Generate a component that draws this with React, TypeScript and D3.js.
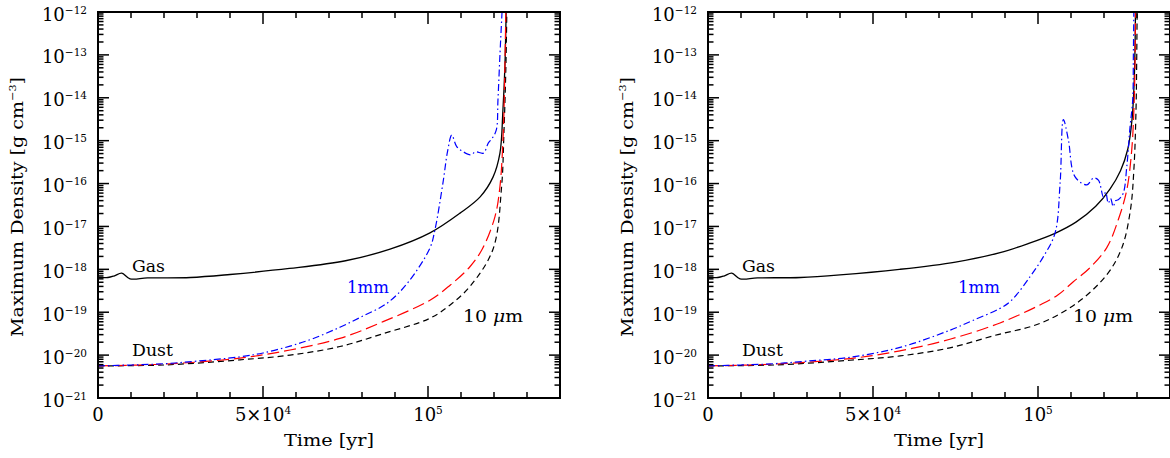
import React from "react";
import * as d3 from "d3";

// ---------- data (time in yr, log10 density) ----------
const gasLeftT = [0, 3000, 5000, 7200, 9700, 15000, 28000, 40000, 58000, 75000, 88500, 100600, 109700, 115800, 119700, 121800, 122700, 123300, 123700];
const gasLeftY = [-18.19, -18.19, -18.15, -18.09, -18.22, -18.2, -18.19, -18.12, -17.98, -17.8, -17.53, -17.15, -16.69, -16.31, -15.85, -15.29, -14.29, -13.28, -11.9];

const mmLeftT = [0, 10000, 20000, 30000, 43000, 50000, 58200, 65000, 73300, 80000, 87600, 94000, 100600, 102100, 104500, 106000, 107200, 108700, 110500, 112900, 114400, 116800, 118300, 119400, 120700, 121200, 121800, 122500];
const mmLeftY = [-20.25, -20.23, -20.2, -20.14, -20.04, -19.95, -19.79, -19.62, -19.35, -19.1, -18.79, -18.3, -17.5, -17.08, -16.0, -15.22, -14.87, -15.14, -15.25, -15.33, -15.26, -15.29, -15.05, -14.95, -14.75, -14.05, -13.0, -11.9];

const redLeftT = [0, 20000, 43000, 58200, 73300, 86400, 100600, 106700, 112700, 116500, 120300, 121800, 122800, 123300, 123600];
const redLeftY = [-20.25, -20.21, -20.07, -19.88, -19.61, -19.22, -18.72, -18.37, -17.94, -17.52, -16.77, -16.07, -14.83, -13.28, -11.9];

const umLeftT = [0, 20000, 43000, 58200, 73300, 86400, 100600, 106700, 112700, 119700, 122300, 123000, 123600, 123900];
const umLeftY = [-20.25, -20.23, -20.11, -20.0, -19.8, -19.5, -19.14, -18.83, -18.4, -17.53, -16.07, -14.83, -13.28, -11.9];

const gasRightT = [0, 3000, 5000, 7200, 9700, 15000, 28000, 40000, 58000, 75000, 88500, 97000, 105150, 111500, 117500, 121800, 125000, 127200, 128500, 129200, 129550];
const gasRightY = [-18.19, -18.19, -18.15, -18.09, -18.22, -18.2, -18.19, -18.13, -18.0, -17.83, -17.61, -17.4, -17.16, -16.9, -16.53, -16.13, -15.7, -15.2, -14.5, -13.5, -11.9];

const mmRightT = [0, 10000, 20000, 30000, 43000, 58200, 73300, 80000, 88500, 92000, 97600, 101600, 105150, 106700, 107700, 109200, 111200, 114800, 116800, 118300, 119800, 120500, 121300, 122000, 122800, 123500, 124300, 125800, 126900, 127900, 128700, 128900, 129050];
const mmRightY = [-20.25, -20.23, -20.2, -20.14, -20.05, -19.82, -19.42, -19.2, -18.91, -18.72, -18.17, -17.71, -17.16, -15.99, -14.51, -14.98, -15.84, -16.03, -15.87, -15.92, -16.31, -16.2, -16.46, -16.35, -16.54, -16.4, -16.38, -16.23, -15.61, -14.67, -14.05, -13.0, -11.9];

const redRightT = [0, 20000, 43000, 58200, 73300, 88500, 100600, 106000, 110700, 115500, 120800, 124300, 126900, 128400, 129100, 129400, 129550];
const redRightY = [-20.25, -20.21, -20.08, -19.9, -19.63, -19.25, -18.83, -18.6, -18.29, -17.98, -17.5, -16.85, -16.15, -15.22, -14.2, -13.2, -11.9];

const umRightT = [0, 20000, 43000, 58200, 73300, 86450, 100600, 111700, 120800, 125400, 128000, 129100, 129700, 129900, 130050];
const umRightY = [-20.25, -20.23, -20.12, -20.02, -19.83, -19.55, -19.26, -18.79, -18.13, -17.5, -16.62, -15.61, -14.28, -13.2, -11.9];

const yDecades = [-12, -13, -14, -15, -16, -17, -18, -19, -20, -21];
const xMajor = [0, 50000, 100000];
const xMinorStep = 10000;

const FONT = "DejaVu Serif";

type Series = { t: number[]; y: number[] };

interface PanelProps {
  x0: number;
  id: string;
  gas: Series;
  mm: Series;
  red: Series;
  um: Series;
  mmLabelX: number;
}

const PW = 462;
const TOP = 12;
const BOTTOM = 398;

function Panel({ x0, id, gas, mm, red, um, mmLabelX }: PanelProps) {
  const x = d3.scaleLinear().domain([0, 140000]).range([x0, x0 + PW]);
  const y = d3.scaleLinear().domain([-21, -12]).range([BOTTOM, TOP]);
  const line = (s: Series) =>
    d3
      .line<number>()
      .x((_, i) => x(s.t[i]))
      .y((v) => y(v))
      .curve(d3.curveCatmullRom.alpha(0.5))(s.y) || "";

  const ticks: JSX.Element[] = [];
  for (let d = -21; d <= -12; d++) {
    const yy = y(d);
    ticks.push(<line key={`yl${d}`} x1={x0} x2={x0 + 11} y1={yy} y2={yy} />);
    ticks.push(<line key={`yr${d}`} x1={x0 + PW} x2={x0 + PW - 11} y1={yy} y2={yy} />);
    if (d < -12) {
      for (let m = 2; m <= 9; m++) {
        const ym = y(d + Math.log10(m));
        ticks.push(<line key={`ylm${d}_${m}`} x1={x0} x2={x0 + 5.5} y1={ym} y2={ym} />);
        ticks.push(<line key={`yrm${d}_${m}`} x1={x0 + PW} x2={x0 + PW - 5.5} y1={ym} y2={ym} />);
      }
    }
  }
  for (let t = 0; t <= 140000; t += xMinorStep) {
    const major = xMajor.includes(t);
    const len = major ? 12 : 6;
    const xx = x(t);
    ticks.push(<line key={`xb${t}`} x1={xx} x2={xx} y1={BOTTOM} y2={BOTTOM - len} />);
    ticks.push(<line key={`xt${t}`} x1={xx} x2={xx} y1={TOP} y2={TOP + len} />);
  }

  const clipId = `clip-${id}`;
  return (
    <g>
      <defs>
        <clipPath id={clipId}>
          <rect x={x0} y={TOP} width={PW} height={BOTTOM - TOP} />
        </clipPath>
      </defs>
      <g clipPath={`url(#${clipId})`} fill="none">
        <path d={line(gas)} stroke="#000" strokeWidth={1.3} />
        <path d={line(um)} stroke="#000" strokeWidth={1.2} strokeDasharray="6 4" />
        <path d={line(red)} stroke="#ff0000" strokeWidth={1.2} strokeDasharray="12 5" />
        <path d={line(mm)} stroke="#0000ff" strokeWidth={1.2} strokeDasharray="7 3 1.5 3" />
      </g>
      <g stroke="#000" strokeWidth={1.5}>{ticks}</g>
      <rect x={x0} y={TOP} width={PW} height={BOTTOM - TOP} fill="none" stroke="#000" strokeWidth={2} />
      <g fontFamily={FONT} fill="#000">
        {yDecades.map((d) => (
          <text key={`yt${d}`} x={x0 - 11} y={y(d) + 8.5} textAnchor="end" fontSize={18}>
            10
            <tspan dy={-7} fontSize={10.5}>{`\u2212${-d}`}</tspan>
          </text>
        ))}
        <text x={x(0)} y={421} textAnchor="middle" fontSize={18}>0</text>
        <text x={x(50000)} y={421} textAnchor="middle" fontSize={18}>
          5×10<tspan dy={-7} fontSize={10.5}>4</tspan>
        </text>
        <text x={x(100000)} y={421} textAnchor="middle" fontSize={18}>
          10<tspan dy={-7} fontSize={10.5}>5</tspan>
        </text>
        <text
          x={x0 + PW / 2}
          y={446}
          textAnchor="middle"
          fontSize={17}
          textLength={90}
          lengthAdjust="spacingAndGlyphs"
        >
          Time [yr]
        </text>
        <text
          transform={`translate(${x0 - 75},${(TOP + BOTTOM) / 2 + 2}) rotate(-90)`}
          textAnchor="middle"
          fontSize={17}
          textLength={260}
          lengthAdjust="spacingAndGlyphs"
        >
          Maximum Density [g cm<tspan dy={-7} fontSize={10}>−3</tspan>
          <tspan dy={7}>]</tspan>
        </text>
        <text x={x0 + 34} y={272} fontSize={16.5} textLength={33} lengthAdjust="spacingAndGlyphs">Gas</text>
        <text x={x0 + 34} y={356} fontSize={16.5} textLength={41} lengthAdjust="spacingAndGlyphs">Dust</text>
        <text x={mmLabelX} y={293} fontSize={16.5} fill="#0000ff" textLength={42} lengthAdjust="spacingAndGlyphs">1mm</text>
        <text x={x0 + 365} y={322} fontSize={16.5} textLength={60} lengthAdjust="spacingAndGlyphs">
          10 <tspan fontStyle="italic">μ</tspan>m
        </text>
      </g>
    </g>
  );
}

export default function App() {
  return (
    <svg
      width={1170}
      height={458}
      style={{ position: "absolute", left: 0, top: 0, background: "#fff" }}
    >
      <rect width={1170} height={458} fill="#fff" />
      <Panel
        x0={98}
        id="l"
        gas={{ t: gasLeftT, y: gasLeftY }}
        mm={{ t: mmLeftT, y: mmLeftY }}
        red={{ t: redLeftT, y: redLeftY }}
        um={{ t: umLeftT, y: umLeftY }}
        mmLabelX={347}
      />
      <Panel
        x0={708}
        id="r"
        gas={{ t: gasRightT, y: gasRightY }}
        mm={{ t: mmRightT, y: mmRightY }}
        red={{ t: redRightT, y: redRightY }}
        um={{ t: umRightT, y: umRightY }}
        mmLabelX={958}
      />
    </svg>
  );
}
